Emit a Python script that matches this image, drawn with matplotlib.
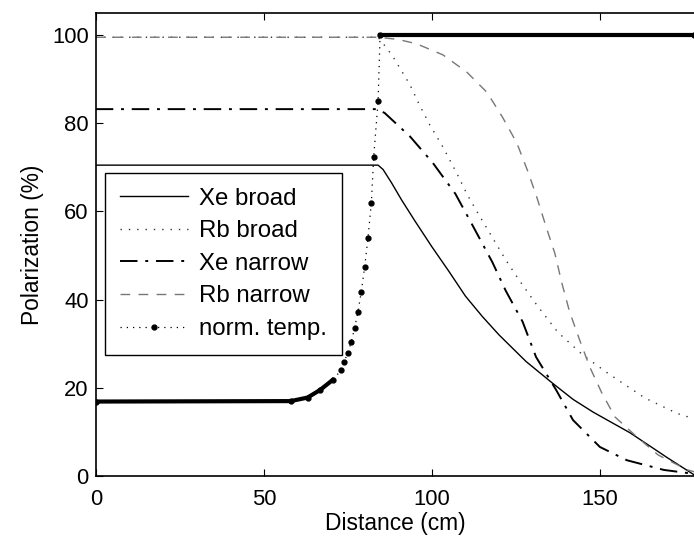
import numpy as np
import matplotlib.pyplot as plt

plt.rcParams["font.family"] = ["Liberation Sans", "DejaVu Sans"]

# Xe broad (solid)
xe_broad_x = [0, 84, 85.5, 88, 91, 95, 100, 105, 110, 115, 120, 128, 136, 142, 148, 159, 170, 178]
xe_broad_y = [70.5, 70.5, 69.5, 66.5, 62.6, 57.8, 52, 46.5, 40.8, 36.2, 32, 26, 21, 17.4, 14.5,
              9.8, 4.2, 0.3]

# Rb broad (dotted)
rb_broad_x = [0, 84, 86.6, 88.5, 93.5, 96.4, 99.4, 103, 107.4, 110.4, 113.7, 117.3, 122, 126,
              131.5, 137.5, 145, 152.4, 163.4, 173, 178]
rb_broad_y = [99.5, 99.5, 97, 95, 88.7, 84, 79.6, 75, 68.7, 64, 59.6, 55, 49, 44.4,
              38.5, 32.6, 27.4, 23.3, 17.7, 14.2, 13]

# Xe narrow (dash-dot)
xe_narrow_x = [0, 84, 86, 93.5, 100.3, 107, 112, 118, 122, 127, 131, 137, 142, 150, 158, 169, 178]
xe_narrow_y = [83.2, 83.2, 82.3, 77, 71, 64, 57, 48.5, 42, 35, 27, 19.5, 12.7, 6.6, 3.6, 1.4, 0.5]

# Rb narrow (dashed, grey)
rb_narrow_x = [0, 84, 90, 95.5, 103.3, 110.4, 116.4, 121, 125.3, 128.6, 131.2, 134, 136.6,
               138.7, 141, 144, 147, 150.6, 154.5, 160.4, 167.3, 176, 178]
rb_narrow_y = [99.5, 99.5, 99, 98, 95.5, 91.6, 87, 81.4, 75.5, 69, 63.3, 56.5, 50.5,
               43.7, 37.2, 30.8, 24.7, 18.8, 13.4, 9.3, 4.8, 1.4, 1.0]

# normalised temperature (dots)
temp_x = [0, 58, 63, 66.7, 70.5, 73, 73.8, 75, 76, 77, 78, 79, 80, 81, 82, 82.7, 84, 84.6, 178]
temp_y = [16.9, 17, 17.8, 19.5, 21.8, 24, 25.9, 27.8, 30.4, 33.5, 37.2, 41.8, 47.4, 54, 62,
          72.4, 85, 100, 100]

fig = plt.figure(figsize=(6.94, 5.41), dpi=100)
ax = fig.add_axes([0.138, 0.120, 0.862, 0.856])

ax.plot(xe_broad_x, xe_broad_y, "-", color="black", lw=1.0, label="Xe broad")
ax.plot(rb_broad_x, rb_broad_y, color="#333333", lw=1.0, ls=(0, (1, 5)), label="Rb broad")
ax.plot(xe_narrow_x, xe_narrow_y, color="black", lw=1.4, ls=(0, (9, 4, 1.5, 4)), label="Xe narrow")
ax.plot(rb_narrow_x, rb_narrow_y, color="#777777", lw=1.0, ls=(0, (7, 6)), label="Rb narrow")
ax.plot(temp_x, temp_y, color="black", lw=0.9, ls=(0, (1, 4)), marker=".", ms=7,
        label="norm. temp.")

# dense marker stretches look like a thick line
tx = np.array(temp_x)
ty = np.array(temp_y)
low = ty <= 22
high = ty >= 99.9
ax.plot(tx[low], ty[low], "-", color="black", lw=3.0)
ax.plot(tx[high], ty[high], "-", color="black", lw=3.0)

ax.set_xlim(0, 178)
ax.set_ylim(0, 105)
ax.set_xticks([0, 50, 100, 150])
ax.set_yticks([0, 20, 40, 60, 80, 100])
ax.tick_params(direction="in", top=True, right=False, labelsize=15.8, length=5)
ax.tick_params(axis="x", pad=9)
ax.tick_params(axis="y", pad=5)
ax.spines["right"].set_visible(False)
for s in ["left", "top", "bottom"]:
    ax.spines[s].set_linewidth(1.2)

ax.set_xlabel("Distance (cm)", fontsize=16.4, labelpad=2)
ax.set_ylabel("Polarization (%)", fontsize=16.4, labelpad=6)

leg = ax.legend(loc="upper left", bbox_to_anchor=(0.015, 0.655), fontsize=17.3,
                handlelength=2.85, numpoints=1, fancybox=False, framealpha=1,
                edgecolor="black", borderpad=0.62, labelspacing=0.44, handletextpad=0.45,
                borderaxespad=0)
leg.get_frame().set_linewidth(1.0)

fig.savefig("out.png", dpi=100)
